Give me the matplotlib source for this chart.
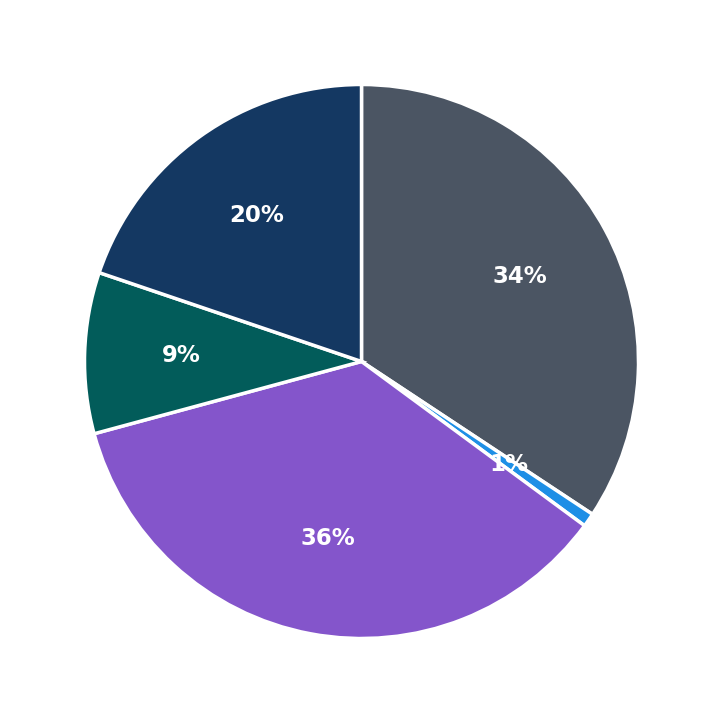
import matplotlib.pyplot as plt

# slice values (percent)
labels = ['A', 'B', 'C', 'D', 'E']
values = [34.3, 0.8, 35.7, 9.4, 19.8]
colors = ['#4b5563', '#1e8fe6', '#8455cb', '#025c5a', '#143862']

fig = plt.figure(figsize=(7.23, 7.23), dpi=100)
r = 277 / 723
ax = fig.add_axes([0.5 - r, 0.5 - r, 2 * r, 2 * r])

wedges, texts, autotexts = ax.pie(
    values, colors=colors, startangle=90, counterclock=False,
    autopct='%1.0f%%', pctdistance=0.65,
    wedgeprops={'edgecolor': 'white', 'linewidth': 2.5},
    textprops={'color': 'white', 'fontsize': 16.5, 'fontweight': 'bold'})

ax.set_xlim(-1, 1)
ax.set_ylim(-1, 1)
ax.set_aspect('equal')

plt.savefig('out.png')
